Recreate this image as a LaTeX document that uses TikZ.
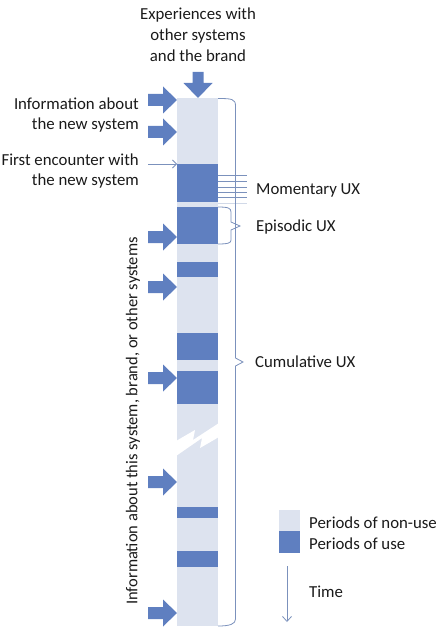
\documentclass[tikz,border=0pt]{standalone}
\usepackage{fontspec}
\setmainfont{Carlito}
\usetikzlibrary{arrows.meta}
\definecolor{usecol}{HTML}{5F7FC0}
\definecolor{nonuse}{HTML}{DDE3EF}
\definecolor{linecol}{HTML}{7B91BC}
\definecolor{txt}{HTML}{1A1A1A}
\begin{document}
\begin{tikzpicture}[x=1bp,y=-1bp,
  lbl/.style={inner sep=0pt,text=txt,font=\fontsize{16.8bp}{20.8bp}\selectfont},
  thin/.style={draw=linecol,line width=0.8bp},
  rarr/.pic={\fill[usecol] (-29,-6) -- (-14,-6) -- (-14,-13.5) -- (0,0) -- (-14,13.5) -- (-14,6) -- (-29,6) -- cycle;},
  darr/.pic={\fill[usecol] (-5.5,-26) -- (-5.5,-15) -- (-14.5,-15) -- (0,0) -- (14.5,-15) -- (5.5,-15) -- (5.5,-26) -- cycle;}
]
\useasboundingbox (0,0) rectangle (448,638);
% column
\fill[nonuse] (177,98) rectangle (218,626);
\foreach \a/\b in {164/202,207/244,262/277,333/360,371/404,507/518,551/567}
  \fill[usecol] (177,\a) rectangle (218,\b);
% break
\fill[white] (176,441) -- (195,430) -- (193,440) -- (219,423) -- (219,437) -- (200,448) -- (202,438) -- (176,456) -- cycle;
% block arrows
\foreach \y in {100,132,237,287,378,482,613}
  \pic at (177,\y) {rarr};
\pic at (198,98) {darr};
% texts
\node[lbl,align=center] (exp) at (198,35) {Experiences with\\other systems\\and the brand};
\node[lbl,align=right,anchor=east] (info) at (139,115) {Information about\\the new system};
\node[lbl,align=right,anchor=east] (first) at (139,171) {First encounter with\\the new system};
\node[lbl,rotate=90,font=\fontsize{16.5bp}{20bp}\selectfont] (infoall) at (133,421) {Information about this system, brand, or other systems};
\coordinate (fe1) at (148,164);
\coordinate (fe2) at (177,164);
\draw[thin,-{Straight Barb[length=4bp,width=8bp]}] (fe1) -- (fe2);
% momentary lines
\foreach \y in {175,181,187,192,197}
  \draw[thin] (218,\y) -- (247,\y);
\draw[draw=linecol!35,line width=0.8bp] (218,203) -- (247,203);
% cumulative brace
\draw[thin] (218,98.5) .. controls (232,98.5) and (235.5,99) .. (235.5,106) -- (235.5,358) -- (243,362) -- (235.5,366) -- (235.5,619) .. controls (235.5,624) and (230,626) .. (218,626);
% episodic brace
\draw[thin] (218,207) .. controls (228,207) and (231,208) .. (231,212) -- (231,222) -- (240,226) -- (231,230) -- (231,240) .. controls (231,243) and (228,244) .. (218,244);
\node[lbl,anchor=west] (mom) at (256,190) {Momentary UX};
\node[lbl,anchor=west] (epi) at (256,227) {Episodic UX};
\node[lbl,anchor=west] (cum) at (255,362) {Cumulative UX};
% legend
\fill[nonuse] (279,510) rectangle (300,531);
\fill[usecol] (279,531) rectangle (300,553);
\node[lbl,anchor=west] (lnon) at (309,523) {Periods of non-use};
\node[lbl,anchor=west] (luse) at (309,544) {Periods of use};
\coordinate (t1) at (287,566);
\coordinate (t2) at (287,622);
\draw[thin,-{Straight Barb[length=5bp,width=9bp]}] (t1) -- (t2);
\node[lbl,anchor=west] (time) at (309,592) {Time};
\end{tikzpicture}
\end{document}
